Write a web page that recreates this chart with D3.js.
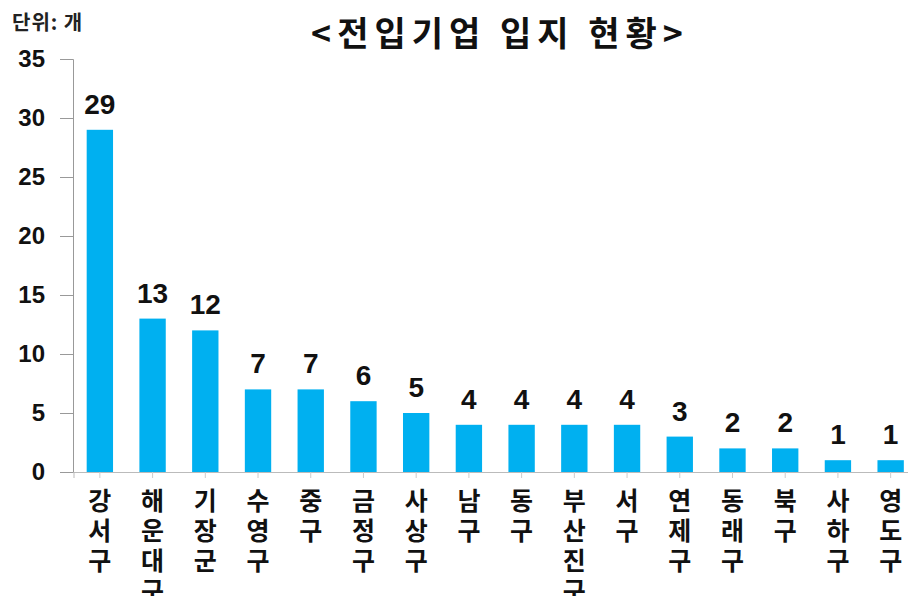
<!DOCTYPE html>
<html>
<head>
<meta charset="utf-8">
<script src="https://cdn.jsdelivr.net/npm/d3@7"></script>
<style>
  body { margin: 0; background: #fff; }
  text { font-family: "Noto Sans CJK KR", "Noto Sans", sans-serif; }
</style>
</head>
<body>
<div id="chart"></div>
<script>
const districts = ['강서구', '해운대구', '기장군', '수영구', '중구', '금정구', '사상구', '남구',
  '동구', '부산진구', '서구', '연제구', '동래구', '북구', '사하구', '영도구'];
const companies = [29, 13, 12, 7, 7, 6, 5, 4, 4, 4, 4, 3, 2, 2, 1, 1];
const yTicks = [0, 5, 10, 15, 20, 25, 30, 35];

const width = 908, height = 596;
const svg = d3.select('#chart').append('svg')
  .attr('width', width)
  .attr('height', height);

const x = d3.scaleBand()
  .domain(districts)
  .range([73.5, 917])
  .paddingInner(0.5)
  .paddingOuter(0.25);

const y = d3.scaleLinear()
  .domain([0, 35])
  .range([472, 59]);

// y axis
const yAxis = svg.append('g')
  .attr('transform', 'translate(73,0)')
  .call(d3.axisLeft(y).tickValues(yTicks).tickSize(13).tickPadding(15));
yAxis.select('.domain').attr('stroke', '#999');
yAxis.selectAll('.tick line').attr('stroke', '#999');
yAxis.selectAll('.tick text')
  .attr('fill', '#111')
  .style('font-size', '24px')
  .style('font-weight', 'bold')
  .style('font-family', '"Liberation Sans", sans-serif');

// bars
svg.selectAll('.bar')
  .data(companies)
  .enter()
  .append('rect')
  .attr('class', 'bar')
  .attr('x', (d, i) => x(districts[i]))
  .attr('y', (d) => y(d))
  .attr('width', x.bandwidth())
  .attr('height', (d) => y(0) - y(d))
  .attr('fill', '#00B0F0');

// x axis
const xAxis = svg.append('g')
  .attr('transform', `translate(0,${y(0)})`)
  .call(d3.axisBottom(x).tickSizeOuter(0).tickSize(6).tickFormat(''));
xAxis.select('.domain').attr('stroke', '#bbb');
xAxis.selectAll('.tick line').attr('stroke', '#ccc');

// value labels
svg.selectAll('.value')
  .data(companies)
  .enter()
  .append('text')
  .attr('class', 'value')
  .attr('x', (d, i) => x(districts[i]) + x.bandwidth() / 2)
  .attr('y', (d) => y(d) - 16)
  .attr('text-anchor', 'middle')
  .attr('fill', '#111')
  .style('font-size', '28px')
  .style('font-weight', 'bold')
  .style('font-family', '"Liberation Sans", sans-serif')
  .text((d) => d);

// category labels, one character per line
const labels = svg.selectAll('.cat')
  .data(districts)
  .enter()
  .append('text')
  .attr('class', 'cat')
  .attr('text-anchor', 'middle')
  .attr('fill', '#111')
  .style('font-size', '25px')
  .style('font-weight', 'bold');

labels.each(function (d) {
  const cx = x(d) + x.bandwidth() / 2;
  d3.select(this).selectAll('tspan')
    .data(Array.from(d))
    .enter()
    .append('tspan')
    .attr('x', cx)
    .attr('y', (c, j) => 510 + j * 30)
    .text((c) => c);
});

// title and unit
svg.append('text')
  .attr('x', 500)
  .attr('y', 46)
  .attr('text-anchor', 'middle')
  .attr('fill', '#111')
  .style('font-size', '34px')
  .style('font-weight', 'bold')
  .style('letter-spacing', '6px')
  .text('<전입기업 입지 현황>');

svg.append('text')
  .attr('x', 12)
  .attr('y', 30)
  .attr('fill', '#222')
  .style('font-size', '20px')
  .style('font-weight', 'bold')
  .style('letter-spacing', '1px')
  .text('단위: 개');
</script>
</body>
</html>
